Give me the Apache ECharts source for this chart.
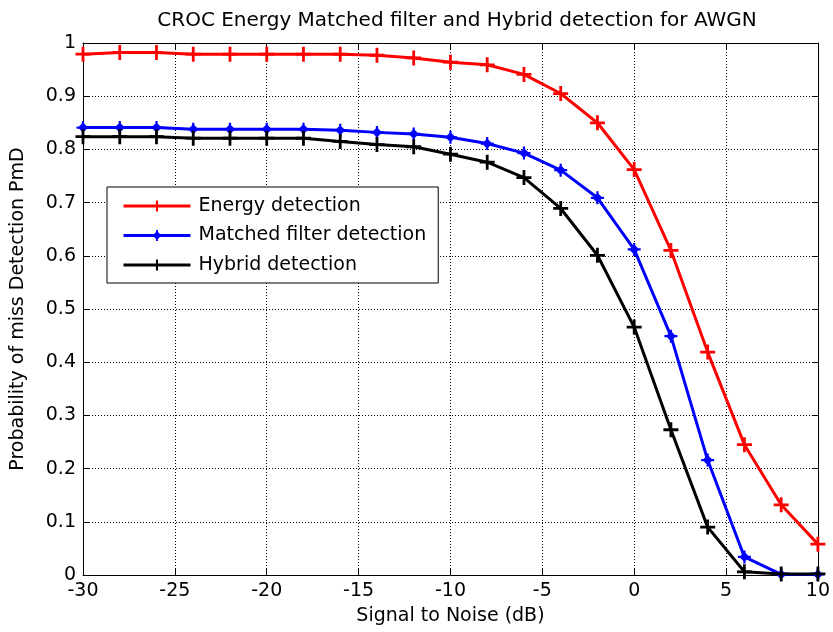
<!DOCTYPE html>
<html>
<head>
<meta charset="utf-8">
<script src="https://cdn.jsdelivr.net/npm/echarts@6/dist/echarts.min.js"></script>
<style>html,body{margin:0;padding:0;background:#fff}#c{width:833px;height:632px}</style>
</head>
<body>
<div id="c"></div>
<script>
const snr = [-30,-28,-26,-24,-22,-20,-18,-16,-14,-12,-10,-8,-6,-4,-2,0,2,4,6,8,10];
const energy = [0.979,0.982,0.982,0.979,0.979,0.979,0.979,0.979,0.977,0.972,0.964,0.959,0.941,0.905,0.850,0.762,0.610,0.419,0.245,0.132,0.058];
const matched = [0.841,0.841,0.841,0.838,0.838,0.838,0.838,0.836,0.832,0.829,0.823,0.811,0.793,0.761,0.709,0.612,0.449,0.216,0.034,0.001,0.001];
const hybrid = [0.824,0.824,0.824,0.821,0.821,0.821,0.821,0.815,0.809,0.805,0.791,0.776,0.747,0.689,0.601,0.466,0.273,0.090,0.006,0.002,0.002];
const seriesNames = ['Energy detection','Matched filter detection','Hybrid detection'];
const xTicks = [-30,-25,-20,-15,-10,-5,0,5,10];
const yTicks = [0,0.1,0.2,0.3,0.4,0.5,0.6,0.7,0.8,0.9,1];

const plus = 'path://M-1.3,-7H1.3V-1.3H7V1.3H1.3V7H-1.3V1.3H-7V-1.3H-1.3Z';
const diaPlus = 'path://M0,-5.5L5.5,0L0,5.5L-5.5,0ZM-1.2,-7H1.2V-1.2H7V1.2H1.2V7H-1.2V1.2H-7V-1.2H-1.2Z';
const font = 'DejaVu Sans, sans-serif';
const chart = echarts.init(document.getElementById('c'));
const pair = (xs, ys) => xs.map((x, i) => [x, ys[i]]);
const mk = (name, data, color, symbol, size) => ({
  name, type: 'line', data, symbol, symbolSize: size, showSymbol: true,
  lineStyle: {color, width: 3}, itemStyle: {color}, emphasis: {disabled: true}, z: 3
});
const axBase = () => ({
  axisLine: {show: true, onZero: false, lineStyle: {color: '#000', width: 1}},
  axisTick: {show: true, inside: true, length: 6, lineStyle: {color: '#000'}},
});
chart.setOption({
  animation: false,
  backgroundColor: '#fff',
  title: {text: 'CROC Energy Matched filter and Hybrid detection for AWGN', left: 452, top: 6, textAlign: 'center',
    textStyle: {fontFamily: font, fontSize: 20, fontWeight: 'normal', color: '#000'}},
  grid: {left: 83, right: 10, top: 43, bottom: 57, show: false},
  legend: {
    orient: 'vertical', left: 107, top: 187, data: seriesNames,
    backgroundColor: '#fff', borderColor: '#000', borderWidth: 1,
    padding: [9, 12, 8, 15], itemGap: 9.5, itemWidth: 67, itemHeight: 14,
    lineStyle: {width: 3},
    textStyle: {fontFamily: font, fontSize: 19, color: '#000', lineHeight: 20, padding: [0,0,0,3]}
  },
  xAxis: [
    Object.assign({type: 'value', min: -30, max: 10, interval: 5, position: 'bottom',
      name: 'Signal to Noise (dB)', nameLocation: 'middle', nameGap: 32,
      nameTextStyle: {fontFamily: font, fontSize: 19, color: '#000'},
      axisLabel: {fontFamily: font, fontSize: 19, color: '#000', margin: 7},
      splitLine: {show: true, lineStyle: {color: '#000', type: [1, 2], width: 1}}}, axBase()),
    Object.assign({type: 'value', min: -30, max: 10, interval: 5, position: 'top',
      axisLabel: {show: false}, splitLine: {show: false}}, axBase())
  ],
  yAxis: [
    Object.assign({type: 'value', min: 0, max: 1, interval: 0.1, position: 'left',
      name: 'Probability of miss Detection PmD', nameLocation: 'middle', nameGap: 55,
      nameTextStyle: {fontFamily: font, fontSize: 19, color: '#000'},
      axisLabel: {fontFamily: font, fontSize: 19, color: '#000', margin: 7,
        formatter: v => String(Math.round(v * 10) / 10)},
      splitLine: {show: true, lineStyle: {color: '#000', type: [1, 2], width: 1}}}, axBase()),
    Object.assign({type: 'value', min: 0, max: 1, interval: 0.1, position: 'right',
      axisLabel: {show: false}, splitLine: {show: false}}, axBase())
  ],
  series: [
    mk(seriesNames[0], pair(snr, energy), '#ff0000', plus, 15),
    mk(seriesNames[1], pair(snr, matched), '#0000ff', diaPlus, 13),
    mk(seriesNames[2], pair(snr, hybrid), '#000000', plus, 15)
  ]
});
</script>
</body>
</html>
